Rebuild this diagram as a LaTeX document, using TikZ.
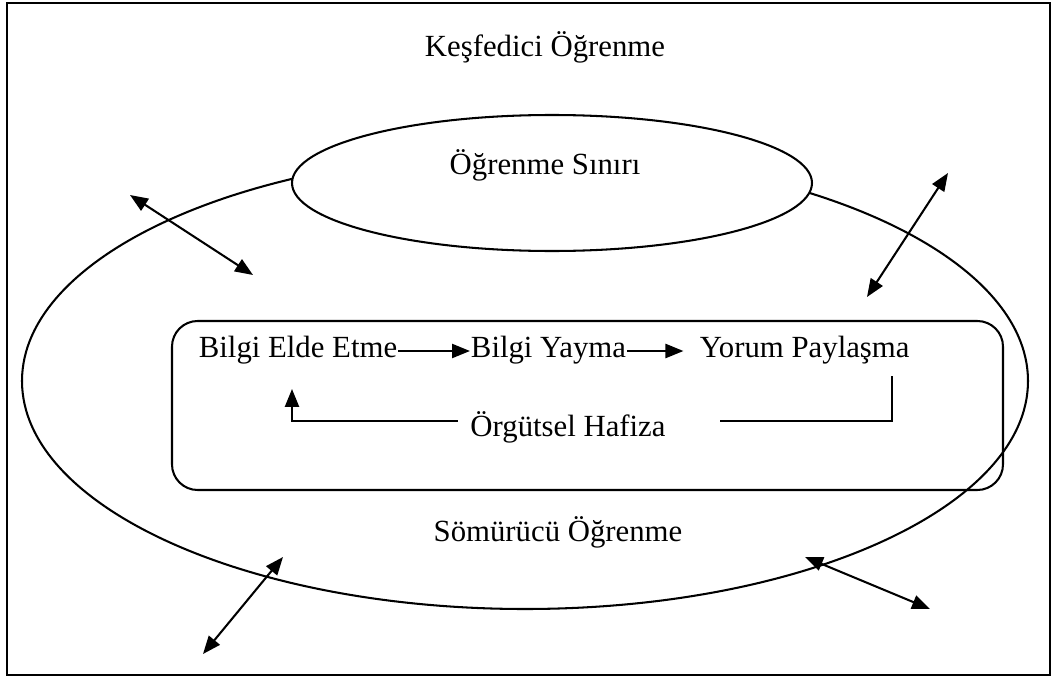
\documentclass[tikz,border=0pt]{standalone}
\usepackage{fontspec}
\setmainfont[Ligatures=CommonOff]{Liberation Serif}
\usetikzlibrary{positioning,arrows.meta}

\tikzset{
    flow/.style={-{Triangle[length=7pt,width=5.5pt]}},
    both/.style={{Triangle[length=7pt,width=5.5pt]}-{Triangle[length=7pt,width=5.5pt]}},
    word/.style={inner sep=0pt, text height=8pt, text depth=3pt}
}

\begin{document}
\begin{tikzpicture}[x=0.39pt, y=-0.39pt, line width=0.8pt, font=\fontsize{12}{14}\selectfont]
    \useasboundingbox (0,0) rectangle (1058,679);
    \draw[line width=1pt] (7,3) rectangle (1050,675);

    \node (kesif) at (545,47) {Keşfedici Öğrenme};

    % outer ring, the boundary ellipse covers its top
    \draw (525,381) ellipse [x radius=503, y radius=228];
    \draw[fill=white] (552,183) ellipse [x radius=260, y radius=68];
    \node (sinir) at (545,165) {Öğrenme Sınırı};

    % inner process box
    \draw[rounded corners=10pt] (172,321) rectangle (1003,490);

    \node[word] (elde) at (298,351) {Bilgi Elde Etme};
    \node[word, right=28pt of elde] (yayma) {Bilgi Yayma};
    \node[word, right=28pt of yayma] (yorum) {Yorum Paylaşma};
    \node[word] (hafiza) at (568,430) {Örgütsel Hafiza};

    \draw[flow] (elde) -- (yayma);
    \draw[flow, shorten >=6pt] (yayma) -- (yorum);

    % feedback through memory
    \coordinate (dn) at (892,421);
    \coordinate (up) at (292,389);
    \draw[shorten <=4pt, shorten >=21pt] (yorum.south -| dn) -- (dn) -- (hafiza.east |- dn);
    \draw[flow, shorten <=4.5pt] (hafiza.west |- dn) -| (up);

    \node (somur) at (558,532) {Sömürücü Öğrenme};

    % exchange across the ring
    \draw[both] (130,195) -- (253,275);
    \draw[both] (948,173) -- (867,297);
    \draw[both] (283,557) -- (203,654);
    \draw[both] (805,557) -- (930,609);
\end{tikzpicture}
\end{document}
